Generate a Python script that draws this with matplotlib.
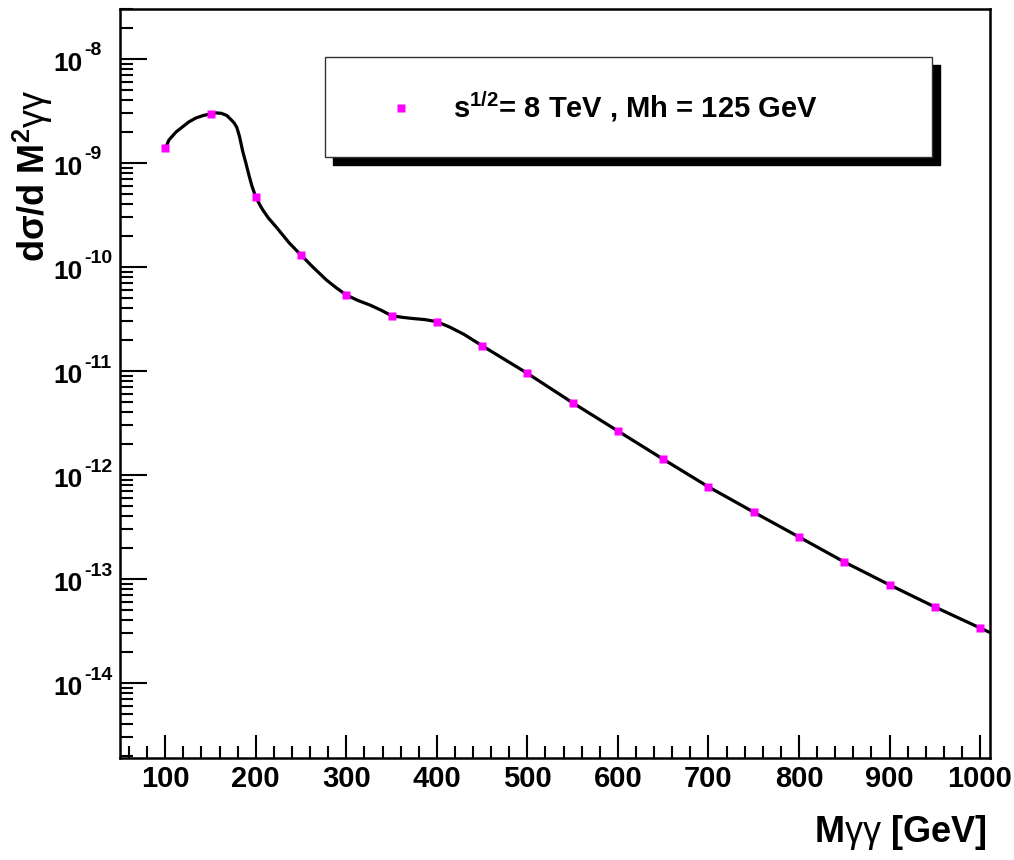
import numpy as np
import matplotlib.pyplot as plt
from matplotlib.patches import Rectangle
from matplotlib.lines import Line2D
from matplotlib.ticker import FixedLocator, LogLocator, NullFormatter

plt.rcParams['font.family'] = ['Liberation Sans', 'DejaVu Sans']
plt.rcParams['mathtext.fontset'] = 'custom'
plt.rcParams['mathtext.rm'] = 'Liberation Sans'
plt.rcParams['mathtext.bf'] = 'Liberation Sans:bold'
plt.rcParams['mathtext.it'] = 'Liberation Sans:italic'

# markers: M_gamma-gamma [GeV] and d(sigma)/dM^2
m_pts = [100, 150, 200, 250, 300, 350, 400, 450, 500, 550,
         600, 650, 700, 750, 800, 850, 900, 950, 1000]
xs_pts = [1.38e-9, 2.96e-9, 4.71e-10, 1.30e-10, 5.38e-11, 3.40e-11, 2.98e-11,
          1.75e-11, 9.5e-12, 4.95e-12, 2.65e-12, 1.42e-12, 7.7e-13, 4.4e-13,
          2.54e-13, 1.46e-13, 8.8e-14, 5.4e-14, 3.39e-14]

# smooth theory curve
m_curve = [100, 104, 112, 119, 126, 134, 142, 150, 156, 162, 168, 173, 176,
           179, 182, 185.5, 189, 193, 196, 200, 204, 207.6, 214, 222.4, 237,
           250, 264, 278, 289, 300, 313, 326, 338, 350, 362, 373, 387, 400,
           414, 430, 450, 500, 550, 600, 650, 700, 750, 800, 850, 900, 950,
           1000, 1010]
xs_curve = [1.37e-9, 1.66e-9, 1.99e-9, 2.22e-9, 2.48e-9, 2.71e-9, 2.86e-9,
            2.96e-9, 3.03e-9, 3.0e-9, 2.86e-9, 2.59e-9, 2.43e-9, 2.2e-9,
            1.8e-9, 1.3e-9, 1.0e-9, 7.3e-10, 5.9e-10, 4.71e-10, 4.02e-10,
            3.55e-10, 2.95e-10, 2.43e-10, 1.70e-10, 1.30e-10, 9.8e-11,
            7.5e-11, 6.3e-11, 5.38e-11, 4.76e-11, 4.31e-11, 3.86e-11,
            3.40e-11, 3.28e-11, 3.20e-11, 3.12e-11, 2.98e-11, 2.65e-11,
            2.25e-11, 1.75e-11, 9.5e-12, 4.95e-12, 2.65e-12, 1.42e-12,
            7.7e-13, 4.4e-13, 2.54e-13, 1.46e-13, 8.8e-14, 5.4e-14, 3.39e-14,
            3.09e-14]

decades = [-14, -13, -12, -11, -10, -9, -8]

fig = plt.figure(figsize=(10.14, 8.6), dpi=100)
ax = fig.add_axes([120/1014, 1 - 758/860, 870/1014, 749/860])

ax.plot(m_curve, xs_curve, color='black', lw=2.3, solid_joinstyle='round',
        solid_capstyle='round', zorder=2)
ax.plot(m_pts, xs_pts, 's', color='#ff00ff', ms=6, mec='none', zorder=3)

ax.set_yscale('log')
ax.set_xlim(50, 1011)
ax.set_ylim(10**-14.72, 10**-7.52)

ax.xaxis.set_major_locator(FixedLocator(np.arange(100, 1001, 100)))
ax.xaxis.set_minor_locator(FixedLocator(np.arange(60, 1001, 20)))
ax.yaxis.set_major_locator(LogLocator(base=10, numticks=20))
ax.yaxis.set_minor_locator(LogLocator(base=10, subs=np.arange(2, 10), numticks=20))
ax.yaxis.set_major_formatter(NullFormatter())
ax.yaxis.set_minor_formatter(NullFormatter())

ax.tick_params(axis='both', which='both', direction='in', width=1.5,
               top=False, right=False)
ax.tick_params(axis='x', which='major', length=16.5, pad=5, labelsize=21)
ax.tick_params(axis='x', which='minor', length=8.5)
ax.tick_params(axis='y', which='major', length=19.5)
ax.tick_params(axis='y', which='minor', length=9.5)
for lab in ax.get_xticklabels():
    lab.set_fontweight('bold')
for sp in ax.spines.values():
    sp.set_linewidth(1.8)

# ROOT-like "10" + big exponent labels on the y axis
for e in decades:
    ax.annotate('10', xy=(0, 10.0**e), xycoords=('axes fraction', 'data'),
                xytext=(-37, -5), textcoords='offset pixels', ha='right',
                va='center', fontsize=19, fontweight='bold')
    ax.annotate('%d' % e, xy=(0, 10.0**e), xycoords=('axes fraction', 'data'),
                xytext=(-36, 8), textcoords='offset pixels', ha='left',
                va='center', fontsize=14, fontweight='bold')

# axis titles
fig.text(33/1014, 1 - 176/860,
         r'd$\mathbf{\sigma}$/d M$^{\mathbf{2}}$$\mathrm{\gamma\gamma}$',
         rotation=90, ha='center', va='center', fontsize=26, fontweight='bold')
fig.text(987/1014, 1 - 832/860, r'M$\mathrm{\gamma\gamma}$ [GeV]', ha='right',
         va='center', fontsize=26, fontweight='bold')

# legend box with ROOT-style shadow
W, H = 1014, 860
x0, y0, x1, y1 = 325, 57, 932, 157
fig.add_artist(Rectangle(((x0 + 8)/W, 1 - (y1 + 8)/H), (x1 - x0)/W, (y1 - y0)/H,
                         transform=fig.transFigure, facecolor='black',
                         edgecolor='black', zorder=5))
fig.add_artist(Rectangle((x0/W, 1 - y1/H), (x1 - x0)/W, (y1 - y0)/H,
                         transform=fig.transFigure, facecolor='white',
                         edgecolor='#333333', lw=1.0, zorder=6))
fig.add_artist(Line2D([401/W], [1 - 108/H], marker='s', color='#ff00ff', ms=6,
                      mec='none', transform=fig.transFigure, zorder=7))
fig.text(635/W, 1 - 107/H, r's$^{\mathbf{1/2}}$= 8 TeV , Mh = 125 GeV',
         ha='center', va='center', fontsize=21, fontweight='bold', zorder=8)

fig.savefig('out.png', dpi=100)
